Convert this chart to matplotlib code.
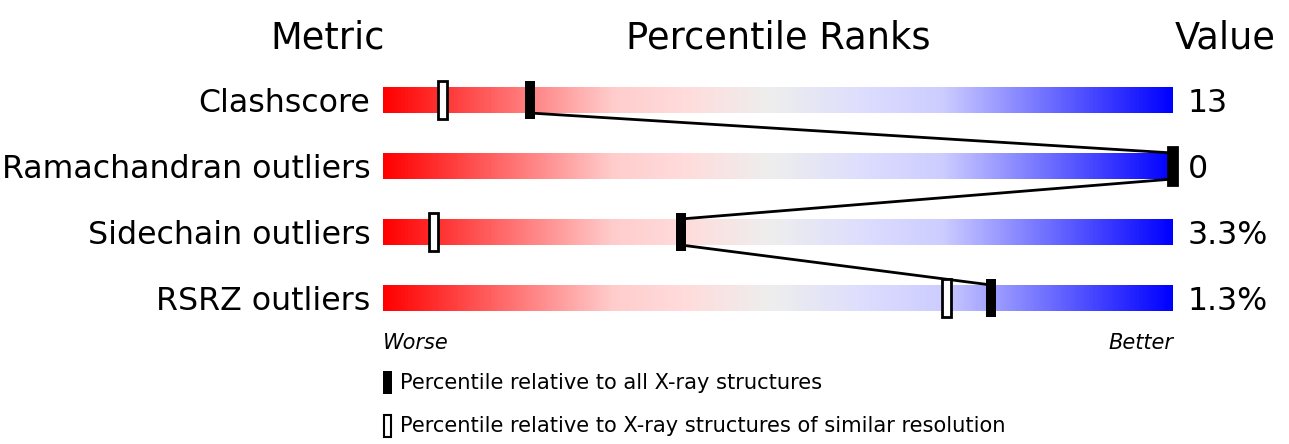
import matplotlib
matplotlib.use("Agg")
import matplotlib.pyplot as plt
import matplotlib.patches as patches
import numpy as np
from matplotlib.colors import LinearSegmentedColormap

metrics = ["Clashscore", "Ramachandran outliers", "Sidechain outliers", "RSRZ outliers"]
values = ["13", "0", "3.3%", "1.3%"]
pct_all = [18.6, 100.0, 37.7, 77.0]
pct_similar = [7.6, 100.0, 6.5, 71.4]

W, H = 1289, 444
fig = plt.figure(figsize=(W / 100, H / 100), dpi=100)

# bar area in pixels: x 383..1173, rows centred at 100, 166, 232, 298
x0, x1 = 383, 1173
y_top, y_bot = 67, 331
ax = fig.add_axes([x0 / W, 1 - y_bot / H, (x1 - x0) / W, (y_bot - y_top) / H])
ax.set_xlim(0, 100)
ax.set_ylim(len(metrics) - 0.5, -0.5)
ax.axis("off")

cmap = LinearSegmentedColormap.from_list(
    "slider", [(0, "#ff0000"), (0.29, "#ffcccc"), (0.39, "#ffdddd"), (0.49, "#eeeeee"),
               (0.61, "#ddddff"), (0.71, "#ccccff"), (1, "#0000ff")])
grad = np.linspace(0, 1, 512).reshape(1, -1)
bar_h = 26 / 66
mark_h = 38 / 66
mark_w = 10 / 790 * 100

for i, name in enumerate(metrics):
    ax.imshow(grad, cmap=cmap, aspect="auto",
              extent=(0, 100, i + bar_h / 2, i - bar_h / 2), zorder=1)
    ax.text(-1.6, i + 0.05, name, ha="right", va="center", fontsize=22.8, clip_on=False)
    ax.text(101.9, i + 0.05, values[i], ha="left", va="center", fontsize=22.8, clip_on=False)

# connecting lines between the black markers
for i in range(len(metrics) - 1):
    ax.plot([pct_all[i], pct_all[i + 1]], [i + bar_h / 2, i + 1 - bar_h / 2],
            color="black", lw=2, zorder=3, clip_on=False)

for i in range(len(metrics)):
    ax.add_patch(patches.Rectangle((pct_similar[i] - mark_w / 2, i - mark_h / 2),
                                   mark_w * 0.9, mark_h, facecolor="white",
                                   edgecolor="black", lw=2, zorder=4, clip_on=False))
    ax.add_patch(patches.Rectangle((pct_all[i] - mark_w / 2, i - mark_h / 2),
                                   mark_w, mark_h, facecolor="black",
                                   edgecolor="black", lw=0, zorder=5, clip_on=False))

ax.text(0, 3.68, "Worse", ha="left", va="center", fontsize=15, style="italic", clip_on=False)
ax.text(100, 3.68, "Better", ha="right", va="center", fontsize=15, style="italic", clip_on=False)

# headers
fig.text(328 / W, 1 - 38 / H, "Metric", ha="center", va="center", fontsize=26.5)
fig.text(778 / W, 1 - 38 / H, "Percentile Ranks", ha="center", va="center", fontsize=26.5)
fig.text(1225 / W, 1 - 38 / H, "Value", ha="center", va="center", fontsize=26.5)

# legend
fig.patches.append(patches.Rectangle((383 / W, 1 - 394 / H), 9 / W, 23 / H,
                                     facecolor="black", transform=fig.transFigure))
fig.text(400 / W, 1 - 383 / H, "Percentile relative to all X-ray structures",
         ha="left", va="center", fontsize=15.1)
fig.patches.append(patches.Rectangle((384 / W, 1 - 437 / H), 7 / W, 22 / H,
                                     facecolor="white", edgecolor="black", lw=1.5,
                                     transform=fig.transFigure))
fig.text(400 / W, 1 - 426 / H, "Percentile relative to X-ray structures of similar resolution",
         ha="left", va="center", fontsize=15.1)

fig.savefig("out.png", dpi=100)
